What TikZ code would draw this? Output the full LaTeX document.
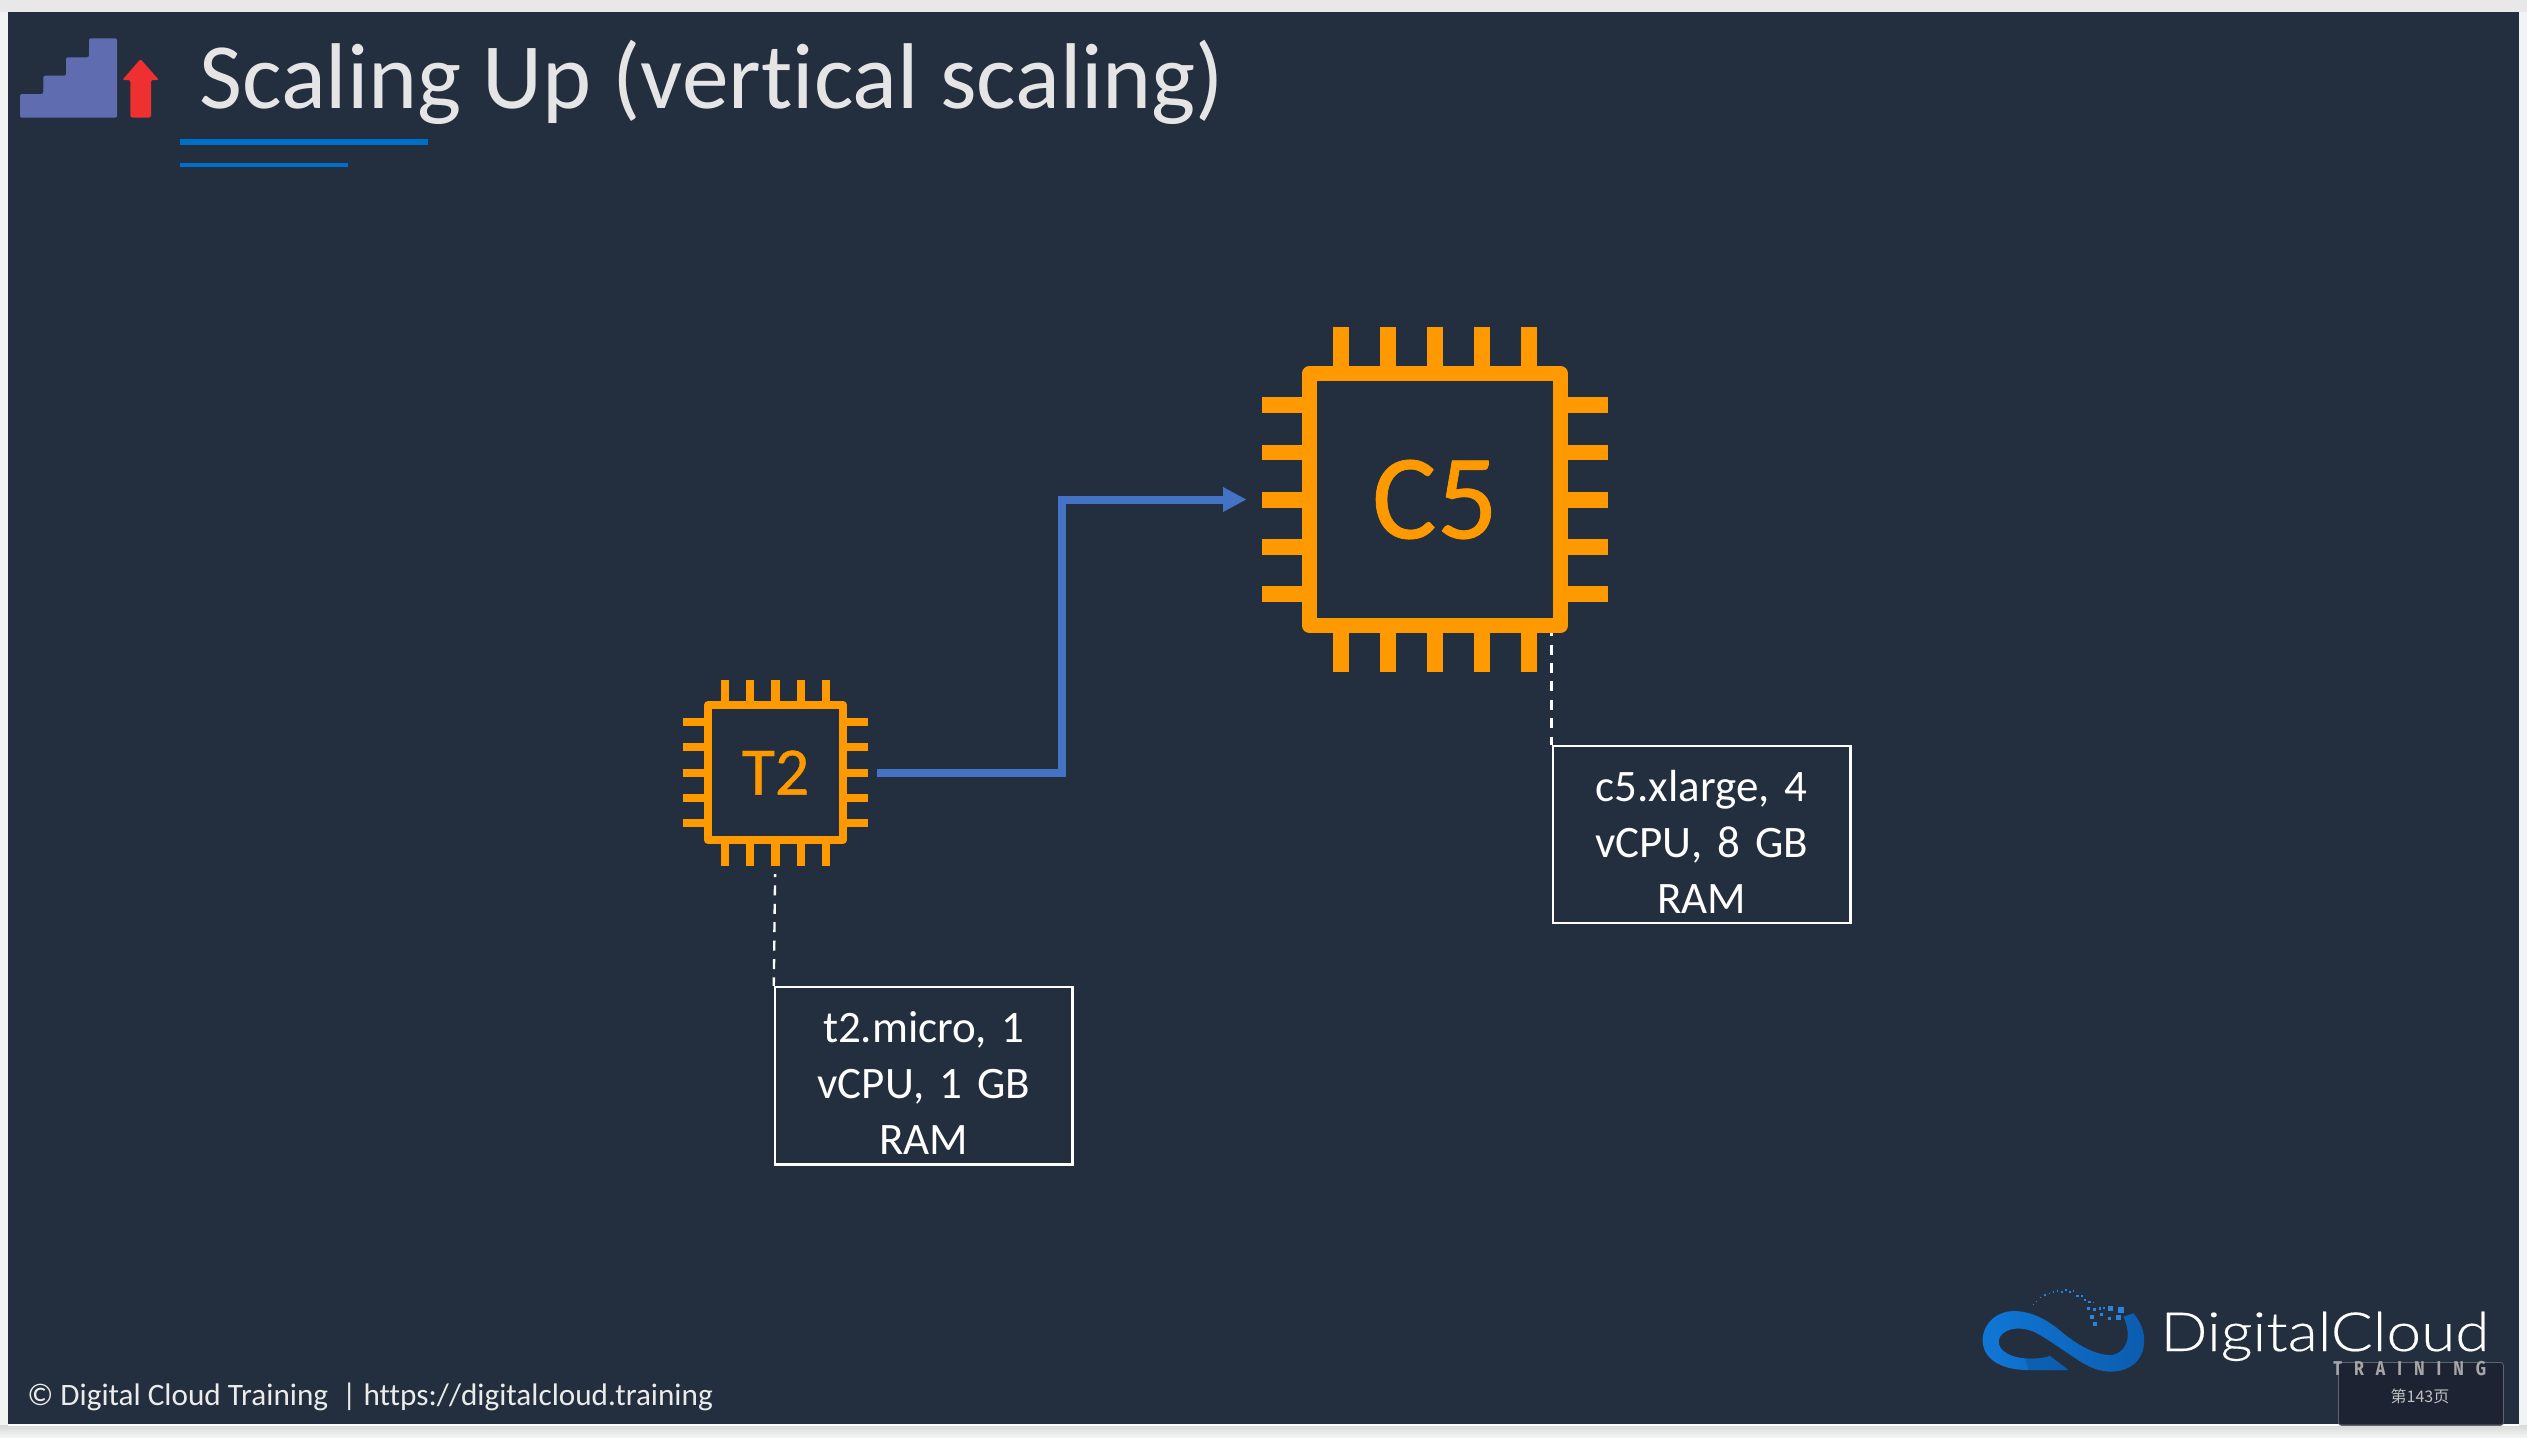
\documentclass[tikz,border=0pt]{standalone}
\usepackage{fontspec}
\setmainfont[Ligatures={NoCommon}]{Carlito}
\newfontfamily\chipfont[Ligatures={NoCommon},FakeBold=0.6]{Carlito}
\newfontfamily\logofont[FakeStretch=1.15,FakeBold=0.3]{Lato Light}
\newfontfamily\trainfont[LetterSpace=60,FakeStretch=0.8]{Fira Sans}
\newfontfamily\cjkfont{Noto Sans CJK SC}
\usetikzlibrary{arrows.meta}
\definecolor{slide}{HTML}{232F3E}
\definecolor{pagebg}{HTML}{F2F3F4}
\definecolor{chip}{HTML}{FF9900}
\definecolor{conn}{HTML}{4472C4}
\definecolor{rule}{HTML}{006FC9}
\definecolor{stair}{HTML}{5F6DB0}
\definecolor{upred}{HTML}{EE3030}
\definecolor{tagbg}{HTML}{1C2230}
\definecolor{logoA}{HTML}{0B5CAE}
\definecolor{logoB}{HTML}{1077D6}
\definecolor{logoC}{HTML}{0A4F98}
\newcommand{\fs}[1]{\fontsize{#1}{#1}\selectfont}
\newcommand{\tagtop}{\rule{0pt}{23pt}}
\tikzset{
 x=0.5pt,y=-0.5pt,
 chipbig/.style={draw=chip,line width=7.6pt,line join=round,minimum width=125.5pt,minimum height=126pt,inner sep=0pt,text=chip,font=\chipfont\fs{60.5}},
 chipsmall/.style={draw=chip,line width=4pt,line join=round,minimum width=67.5pt,minimum height=67.5pt,inner sep=0pt,text=chip,font=\chipfont\fs{34}},
 pinbig/.style={draw=chip,line width=7.8pt},
 pinsmall/.style={draw=chip,line width=4.1pt},
 tag/.style={draw=white,line width=1.25pt,text=white,align=center,inner sep=0pt,minimum width=148.8pt,minimum height=88.6pt,text width=140pt,font=\fontsize{22.5}{28}\selectfont},
 leader/.style={draw=white,line width=1.2pt,dash pattern=on 5pt off 4.2pt,dash phase=3.5pt},
 connector/.style={draw=conn,line width=4pt,-{Triangle[length=11.7pt,width=11.5pt]}},
 plain/.style={anchor=base west,inner sep=0pt},
}
\begin{document}
\begin{tikzpicture}
\useasboundingbox (0,0) rectangle (2527,1437);
\fill[pagebg] (0,0) rectangle (2527,1437);
\fill[black!9] (0,0) rectangle (2527,12);
\shade[top color=black!15,bottom color=pagebg] (0,1425) rectangle (2527,1437);
\fill[slide] (8,12) rectangle (2519,1424);
\fill[white] (8,1424) rectangle (2519,1426);
% stairs icon
\fill[stair,rounded corners=1pt] (20,117.7) -- (20,94) -- (43.3,94) -- (43.3,75.7) -- (66,75.7) -- (66,57.3) -- (89,57.3) -- (89,38.3) -- (117,38.3) -- (117,117.7) -- cycle;
\fill[upred,rounded corners=1pt] (130.3,117.5) -- (130.3,80) -- (122.3,80) -- (140.5,59) -- (159,80) -- (151,80) -- (151,117.5) -- cycle;
% title
\node[plain,text=white!90!black,font=\fs{46.7}] (title) at (199,108) {Scaling Up (vertical scaling)};
\fill[rule] (180.3,139.3) rectangle (428.3,145.3);
\fill[rule] (180.3,162.7) rectangle (348,166.7);
% chips
\node[chipbig] (c5) at (1435,499.5) {C5};
\node[chipsmall] (t2) at (775.5,772.5) {T2};
\foreach \p in {1340.7,1387.7,1435,1482,1529}{
  \draw[pinbig] (\p,327) -- (\p,366);
  \draw[pinbig] (\p,633) -- (\p,672);
}
\foreach \p in {405,452.3,499.7,547,594}{
  \draw[pinbig] (1262,\p) -- (1302,\p);
  \draw[pinbig] (1568,\p) -- (1608,\p);
}
\foreach \p in {725,750.3,775.5,801,826}{
  \draw[pinsmall] (\p,680) -- (\p,701);
  \draw[pinsmall] (\p,844) -- (\p,866);
}
\foreach \p in {722,747.3,773,798,823}{
  \draw[pinsmall] (682.7,\p) -- (704,\p);
  \draw[pinsmall] (847,\p) -- (868,\p);
}
% tags
\node[tag] (t2tag) at (923.8,1075.8) {\tagtop t2.micro, 1\\vCPU, 1 GB\\RAM};
\node[tag] (c5tag) at (1701.7,834.5) {\tagtop c5.xlarge, 4\\vCPU, 8 GB\\RAM};
% connectors
\draw[connector,shorten <=15pt,shorten >=27.65pt] (t2.east) -- ++(215,0) |- (c5.west);
\draw[leader,shorten <=15pt] (t2.south) -- (t2tag.north west);
\draw[leader] (c5.south east -| c5tag.north west) -- (c5tag.north west);
% footer
\node[plain,text=white!92!black,font=\fs{15.6}] (foot) at (27,1405.5) {© Digital Cloud Training \ | https://digitalcloud.training};
% logo
\begin{scope}[shift={(1970,1275)},x=0.1667pt,y=-0.1667pt]
\shade[left color=logoB,middle color=logoB!80!logoA,right color=logoA]
 (130,108) .. controls (190,108) and (240,140) .. (280,175)
 .. controls (330,215) and (380,240) .. (420,240)
 .. controls (465,238) and (490,190) .. (460,125)
 -- (490,115)
 .. controls (530,160) and (535,225) .. (495,265)
 .. controls (450,300) and (395,295) .. (345,268)
 .. controls (290,235) and (240,195) .. (195,172)
 .. controls (160,155) and (110,155) .. (90,185)
 .. controls (75,215) and (105,245) .. (165,250)
 .. controls (195,252) and (220,250) .. (240,243)
 -- (295,285)
 -- (175,285)
 .. controls (90,285) and (35,250) .. (38,190)
 .. controls (42,140) and (85,108) .. (130,108) -- cycle;
\fill[logoC,opacity=.45] (165,250) .. controls (195,252) and (220,250) .. (240,243) -- (295,285) -- (175,285) -- cycle;
\foreach \a/\b/\s in {190/87/2,200/78/3,212/68/3,225/60/4,238/55/4,250/50/5,262/48/5,275/50/5,288/46/6,300/52/6,310/47/5,322/62/7,335/62/7,345/75/7,358/80/7,370/82/5,355/100/9,372/103/9,390/100/7,402/98/6,422/100/15,452/105/18,366/125/11,395/118/9,418/130/11,445/128/15,375/147/12}{
  \fill[logoB!90!white] (\a-\s/2,\b-\s/2) rectangle (\a+\s/2,\b+\s/2);
}
\end{scope}
\node[plain,text=white,font=\logofont\fs{27}] (logotext) at (2160,1351) {DigitalCloud};
% page tag
\node[draw=white!30!tagbg,line width=.4pt,fill=tagbg,fill opacity=.85,rounded corners=1.5pt,anchor=north west,minimum width=82.5pt,minimum height=31.5pt,inner sep=0pt] (pagetag) at (2338,1362) {};
\node[plain,text=white!65!black,font=\trainfont\bfseries\fs{10}] (logosub) at (2333,1375) {TRAINING};
\node[text=white!75!black,font=\cjkfont\fs{8},inner sep=0pt] (pagenum) at (2420,1396) {第143页};
\end{tikzpicture}
\end{document}
